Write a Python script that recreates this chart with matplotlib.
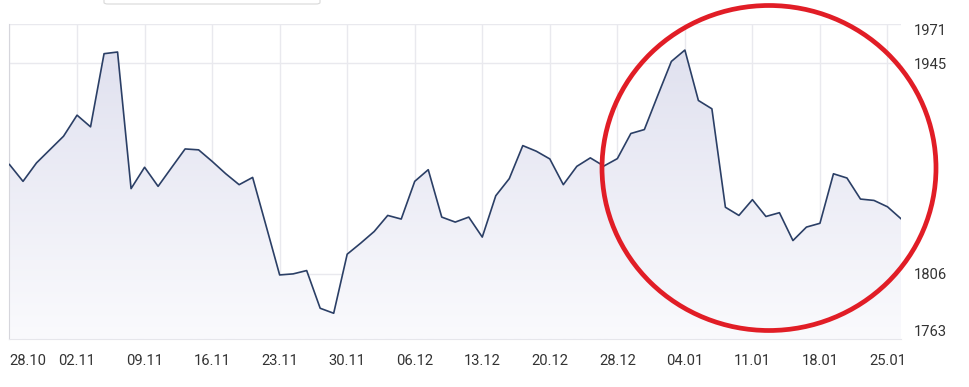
import matplotlib
matplotlib.use("Agg")
import matplotlib.pyplot as plt
import numpy as np
from matplotlib.patches import Ellipse, FancyBboxPatch

plt.rcParams['font.family'] = ['Roboto', 'DejaVu Sans']

# daily values (one per trading day)
values = [1878.2, 1867.1, 1879.3, 1888.1, 1896.9, 1910.8, 1903.1, 1951.4, 1952.5, 1862.3,
          1876.4, 1863.8, 1876.2, 1888.5, 1887.9, 1880.3, 1872.2, 1864.9, 1869.7, 1837.6,
          1805.3, 1806.0, 1808.2, 1783.3, 1780.0, 1819.0, 1826.3, 1834.0, 1844.6, 1842.2,
          1867.1, 1874.8, 1843.5, 1840.2, 1843.5, 1830.3, 1857.6, 1868.9, 1890.7, 1887.0,
          1881.9, 1864.9, 1877.0, 1882.6, 1877.2, 1882.1, 1898.7, 1901.3, 1924.0, 1946.3,
          1953.8, 1920.5, 1915.0, 1850.0, 1844.6, 1855.0, 1843.9, 1846.4, 1828.0, 1836.9,
          1839.4, 1872.1, 1869.3, 1855.4, 1854.5, 1850.3, 1842.4]
date_labels = ['28.10', '02.11', '09.11', '16.11', '23.11', '30.11', '06.12',
               '13.12', '20.12', '28.12', '04.01', '11.01', '18.01', '25.01']
y_ticks = [1763, 1806, 1945, 1971]

x = np.arange(len(values))
ymin, ymax = 1763, 1971

fig = plt.figure(figsize=(9.7, 3.87), dpi=100)
ax = fig.add_axes([9.5 / 970, 1 - 339 / 387, (901 - 9.5) / 970, (339 - 24) / 387])

# gradient fill under the line
poly = ax.fill_between(x, values, ymin, facecolor='none', edgecolor='none')
top_c = np.array([222, 223, 238]) / 255
bot_c = np.array([250, 250, 253]) / 255
t = np.linspace(0, 1, 256)[:, None]
grad = (top_c * (1 - t) + bot_c * t)[:, None, :]
im = ax.imshow(grad, extent=[0, len(values) - 1, ymin, ymax], aspect='auto',
               origin='upper', zorder=1)
im.set_clip_path(poly.get_paths()[0], transform=ax.transData)

ax.plot(x, values, color='#2b3f66', linewidth=1.2, zorder=3)

ax.set_xlim(0, len(values) - 1)
ax.set_ylim(ymin, ymax)
ax.set_xticks(np.arange(0, len(values), 5))
ax.set_xticklabels(date_labels)
ax.set_yticks(y_ticks)
ax.yaxis.tick_right()
ax.grid(True, color='#e9e9ee', linewidth=1)
ax.set_axisbelow(True)
ax.tick_params(length=0, labelsize=10.6, labelcolor='#333333')
ax.tick_params(axis='x', pad=10.5)
ax.tick_params(axis='y', pad=9)
for s in ['top', 'right']:
    ax.spines[s].set_visible(False)
ax.spines['left'].set_color('#d6d6dc')
ax.spines['bottom'].set_color('#e6e6eb')

xl = ax.get_xticklabels()
xl[0].set_ha('left')
yl = ax.get_yticklabels()
yl[0].set_va('bottom')
yl[-1].set_va('top')

# red circle annotation
circ = Ellipse((769 / 970, 1 - 168 / 387), 334 / 970, 325 / 387,
               transform=fig.transFigure, fill=False, edgecolor='#e11d26',
               linewidth=3.4, clip_on=False)
fig.patches.append(circ)

# partly visible box at the top edge
box = FancyBboxPatch((104 / 970, 1 - 4 / 387), 216 / 970, 20 / 387,
                     boxstyle='round,pad=0,rounding_size=0.004',
                     transform=fig.transFigure, facecolor='white',
                     edgecolor='#d9d9d9', linewidth=0.8, clip_on=False)
fig.patches.append(box)

fig.savefig('out.png', dpi=100)
